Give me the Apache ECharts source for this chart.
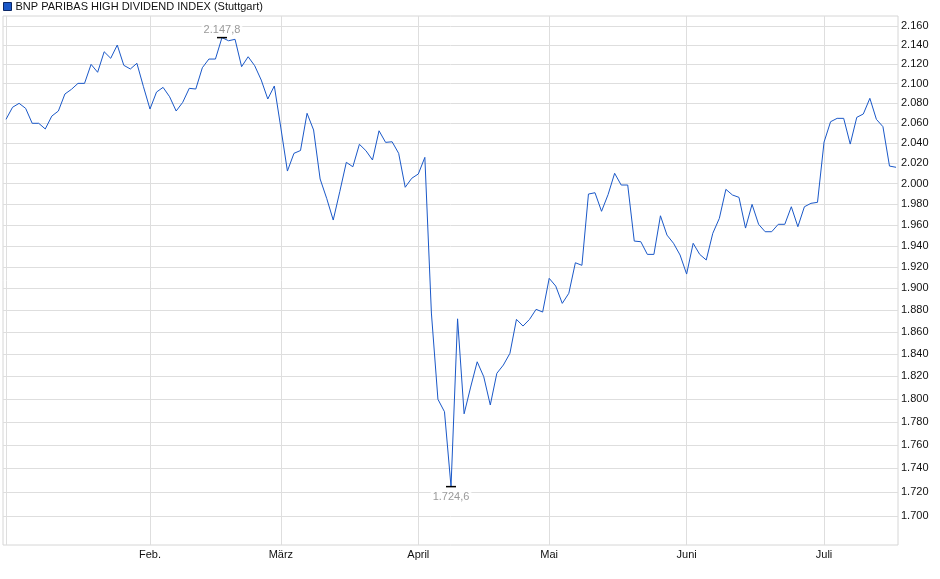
<!DOCTYPE html>
<html>
<head>
<meta charset="utf-8">
<script src="https://cdn.jsdelivr.net/npm/echarts@6.0.0/dist/echarts.min.js"></script>
<style>
html,body{margin:0;padding:0;background:#fff;}
#chart{width:940px;height:579px;}
</style>
</head>
<body>
<div id="chart"></div>
<script>
// Series name
const seriesName = 'BNP PARIBAS HIGH DIVIDEND INDEX (Stuttgart)';

// Daily closing values (trading days, early January to mid July)
const values = [
  2063.7, 2075.9, 2079.9, 2074.8, 2059.7, 2059.7, 2054.0, 2067.0, 2072.1, 2089.4,
  2094.2, 2100.3, 2100.3, 2119.9, 2111.7, 2133.0, 2126.2, 2140.0, 2118.9, 2115.1,
  2121.0, 2096.9, 2074.1, 2091.4, 2096.2, 2086.6, 2072.1, 2080.9, 2095.2, 2094.5,
  2116.4, 2125.4, 2125.4, 2147.8, 2144.5, 2146.0, 2117.5, 2127.8, 2118.5, 2103.7,
  2084.3, 2097.6, 2055.0, 2012.2, 2029.7, 2032.5, 2069.8, 2053.0, 2004.4, 1985.5,
  1964.6, 1992.0, 2020.8, 2016.4, 2038.7, 2032.3, 2023.1, 2052.2, 2040.6, 2041.2,
  2029.7, 1996.3, 2005.1, 2009.3, 2025.7, 1877.3, 1799.8, 1788.9, 1724.6, 1872.0,
  1787.1, 1810.6, 1833.1, 1819.8, 1794.8, 1822.8, 1830.2, 1840.7, 1871.5, 1865.4,
  1871.5, 1880.7, 1878.2, 1909.4, 1902.2, 1886.2, 1895.5, 1924.0, 1921.6, 1989.7,
  1991.0, 1973.0, 1989.2, 2010.0, 1998.5, 1998.5, 1944.5, 1943.9, 1931.9, 1931.9,
  1968.7, 1950.2, 1942.4, 1931.3, 1913.4, 1942.4, 1931.9, 1926.6, 1951.9, 1966.2,
  1994.3, 1988.8, 1986.5, 1956.9, 1979.7, 1960.5, 1953.4, 1953.4, 1960.5, 1960.5,
  1977.4, 1958.2, 1977.4, 1980.7, 1981.7, 2040.9, 2061.3, 2064.7, 2064.7, 2038.9,
  2065.7, 2069.1, 2085.0, 2063.7, 2056.3, 2017.1, 2015.9
];

// Month ticks: trading-day index of first trading day of each month
const monthStartIdx = [0, 22, 42, 63, 83, 104, 125];
const monthLabels = ['Jan.', 'Feb.', 'März', 'April', 'Mai', 'Juni', 'Juli'];

// Y axis tick values (log scale)
const yTicks = [1700, 1720, 1740, 1760, 1780, 1800, 1820, 1840, 1860, 1880, 1900,
  1920, 1940, 1960, 1980, 2000, 2020, 2040, 2060, 2080, 2100, 2120, 2140, 2160];

function deFormat(v, d) {
  const s = Number(v).toFixed(d);
  const parts = s.split('.');
  const intPart = parts[0].replace(/\B(?=(\d{3})+(?!\d))/g, '.');
  return parts.length > 1 ? intPart + ',' + parts[1] : intPart;
}

const lineData = values.map((v, i) => [i, v]);
const FONT = "'Liberation Sans', Arial, sans-serif";
const BLUE = '#1a58c8';

const chart = echarts.init(document.getElementById('chart'), null, {renderer: 'canvas'});
chart.setOption({
  animation: false,
  backgroundColor: '#fff',
  textStyle: {fontFamily: FONT},
  legend: {
    data: [seriesName],
    left: 3,
    top: 1,
    padding: 0,
    icon: 'rect',
    itemWidth: 8,
    itemHeight: 8,
    itemStyle: {color: BLUE, borderColor: '#0b2766', borderWidth: 1},
    textStyle: {fontSize: 11, color: '#111', fontFamily: FONT, padding: [0, 0, 0, -1]}
  },
  grid: {
    left: 3, right: 42, top: 16, bottom: 34,
    show: true, borderColor: '#d6d6d6', borderWidth: 1,
    containLabel: false
  },
  xAxis: {
    type: 'value',
    min: -0.46,
    max: 136.3,
    axisLine: {show: false},
    axisTick: {show: false, customValues: monthStartIdx},
    splitLine: {show: true, lineStyle: {color: '#dedede', width: 1}},
    axisLabel: {
      customValues: monthStartIdx.slice(1),
      formatter: function (v) {
        const k = monthStartIdx.indexOf(Math.round(v));
        return k >= 0 ? monthLabels[k] : '';
      },
      fontSize: 11, color: '#111', fontFamily: FONT, margin: 4
    }
  },
  yAxis: {
    type: 'log',
    logBase: 10,
    position: 'right',
    min: 1676.1,
    max: 2170.6,
    axisLine: {show: false},
    axisTick: {show: false, customValues: yTicks},
    splitLine: {show: true, lineStyle: {color: '#dedede', width: 1}},
    axisLabel: {
      customValues: yTicks,
      formatter: function (v) { return deFormat(Math.round(v), 0); },
      fontSize: 11, color: '#111', fontFamily: FONT, margin: 3
    }
  },
  series: [{
    name: seriesName,
    type: 'line',
    data: lineData,
    showSymbol: false,
    symbol: 'none',
    color: BLUE,
    lineStyle: {color: BLUE, width: 1},
    markPoint: {
      symbol: 'rect',
      symbolSize: [10, 1.5],
      itemStyle: {color: '#000'},
      data: [
        {type: 'max', label: {position: 'top', distance: 1}},
        {type: 'min', label: {position: 'bottom', distance: 3}}
      ],
      label: {
        show: true,
        formatter: function (p) { return deFormat(p.value, 1); },
        color: '#9a9a9a',
        fontSize: 11,
        fontFamily: FONT,
        backgroundColor: 'rgba(255,255,255,0.85)',
        padding: [1, 2, 0, 2]
      }
    }
  }]
});
</script>
</body>
</html>
